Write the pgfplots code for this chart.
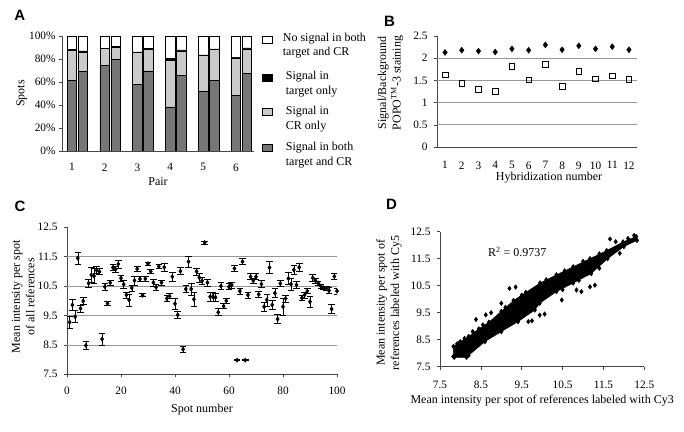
\documentclass[border=0pt]{standalone}
\usepackage{pgfplots}
\pgfplotsset{compat=1.18}
\usepackage{pgfplotstable}
\usepackage{fontspec}
\setmainfont{Liberation Serif}
\newfontfamily\panelfont{Liberation Sans}
\definecolor{darkbar}{RGB}{118,118,118}
\definecolor{lightbar}{RGB}{202,202,202}
\definecolor{gridc}{RGB}{150,150,150}
\definecolor{axc}{RGB}{70,70,70}
\newcommand\tk{\fontsize{11.3}{13}\selectfont}
\newcommand\lb{\fontsize{12}{14.5}\selectfont}
\newcommand\pl{\panelfont\bfseries\fontsize{15}{15}\selectfont}

\pgfplotsset{
  panel/.style={
    scale only axis, anchor=south west,
    axis x line*=bottom, axis y line*=left,
    axis line style={axc, line width=0.6pt},
    tick align=outside, major tick length=3pt,
    tick style={axc, line width=0.5pt},
    tick label style={font=\tk},
    label style={font=\lb},
    grid style={gridc, line width=0.6pt},
    /pgf/number format/assume math mode=true,
  },
}

% panel C: spot, mean, error
\pgfplotstableread{
s v e
1 9.27 0.2
2 9.86 0.18
3 9.46 0.2
4 11.45 0.2
5 9.74 0.12
6 9.99 0.12
7 8.48 0.13
8 10.6 0.13
9 10.88 0.25
10 10.84 0.25
11 11.04 0.12
12 10.99 0.1
13 8.7 0.2
14 10.48 0.12
15 9.91 0.06
16 10.62 0.08
17 11.13 0.1
18 11.07 0.1
19 11.25 0.13
20 10.77 0.1
21 10.56 0.15
22 10.2 0.1
23 10.03 0.2
24 10.44 0.1
25 10.69 0.15
26 11.09 0.1
27 10.74 0.08
28 10.19 0.05
29 10.75 0.08
30 11.26 0.06
31 11.0 0.08
32 10.62 0.12
33 10.46 0.1
34 11.17 0.08
35 10.62 0.08
36 11.14 0.12
37 10.08 0.1
38 10.16 0.08
39 10.82 0.15
40 9.9 0.18
41 9.52 0.12
42 11.01 0.12
43 8.35 0.1
44 10.4 0.12
45 11.33 0.2
46 10.4 0.2
47 10.05 0.25
48 11.0 0.12
49 10.79 0.15
50 10.68 0.12
51 11.98 0.05
52 10.62 0.12
53 10.14 0.15
54 10.14 0.15
55 10.12 0.12
56 9.61 0.12
57 10.5 0.12
58 9.82 0.08
59 10.0 0.1
60 10.48 0.1
61 10.54 0.1
62 11.1 0.1
63 7.98 0.02
64 10.33 0.1
65 11.33 0.1
66 7.98 0.02
67 10.2 0.1
68 10.82 0.1
69 10.68 0.1
70 10.82 0.1
71 10.22 0.1
72 10.57 0.12
73 9.8 0.15
74 10.03 0.2
75 11.13 0.2
76 9.86 0.15
77 10.26 0.15
78 9.38 0.15
79 10.59 0.1
80 9.8 0.3
81 10.08 0.12
82 10.76 0.2
83 10.57 0.2
84 11.05 0.15
85 10.54 0.12
86 11.14 0.12
87 10.1 0.08
88 10.2 0.1
89 10.33 0.08
90 9.97 0.2
91 10.78 0.12
92 10.69 0.08
93 10.6 0.08
94 10.5 0.06
95 10.44 0.06
96 10.42 0.06
97 10.35 0.1
98 9.72 0.15
99 10.83 0.1
100 10.33 0.1
}\Cdata

\begin{document}
\begin{tikzpicture}
\path[use as bounding box, fill=white] (0pt,0pt) rectangle (684pt,431pt);

% ---------------- A ----------------
\node[font=\pl] at (19.7pt,416pt) {A};
\begin{axis}[panel, at={(62pt,280pt)}, width=192pt, height=115pt,
  xmin=0.70, xmax=6.55, ymin=0, ymax=100,
  ytick={0,20,...,100}, yticklabel={\pgfmathprintnumber{\tick}\%},
  xtick={1,...,6}, x tick style={draw=none}, xticklabel shift=6pt,
  ybar stacked, bar width=0.29,
  xlabel={Pair}, ylabel={Spots},
  xlabel style={at={(axis description cs:0.5,-0.267)}, anchor=center},
  ylabel style={at={(axis description cs:-0.21,0.5)}, anchor=center},
]
\addplot[fill=darkbar, draw=black, line width=0.5pt] coordinates {
 (1,61.4) (1.335,69.3) (2,74.2) (2.335,79.7) (3,58) (3.335,69.6)
 (4,38.3) (4.335,65.8) (5,51.9) (5.335,61.2) (6,48.1) (6.335,67.5)};
\addplot[fill=lightbar, draw=black, line width=0.5pt] coordinates {
 (1,26.1) (1.335,16.5) (2,14.8) (2.335,10.2) (3,27.5) (3.335,18.8)
 (4,40.8) (4.335,21.2) (5,31.3) (5.335,27.2) (6,32.8) (6.335,21.2)};
\addplot[fill=black, draw=black, line width=0.5pt] coordinates {
 (1,0.8) (1.335,1.2) (2,0.5) (2.335,1.0) (3,0.8) (3.335,0.6)
 (4,1.2) (4.335,0.9) (5,0.3) (5.335,0.4) (6,0.7) (6.335,0.9)};
\addplot[fill=white, draw=black, line width=0.5pt] coordinates {
 (1,11.7) (1.335,13.0) (2,10.5) (2.335,9.1) (3,13.7) (3.335,11.0)
 (4,19.7) (4.335,12.1) (5,16.5) (5.335,11.2) (6,18.4) (6.335,10.4)};
\end{axis}
% legend of A
\draw[black, line width=0.5pt, fill=white] (262.7pt,388.2pt) rectangle (272.7pt,395.2pt);
\draw[black, line width=0.5pt, fill=black] (262.7pt,349.5pt) rectangle (272.7pt,356.5pt);
\draw[black, line width=0.5pt, fill=lightbar] (262.7pt,315.8pt) rectangle (272.7pt,322.8pt);
\draw[black, line width=0.5pt, fill=darkbar] (262.7pt,280.2pt) rectangle (272.7pt,287.2pt);
\begin{scope}[every node/.style={anchor=west, font=\lb, inner sep=0pt}]
\node at (282.7pt,392pt) {No signal in both};
\node at (282.7pt,378pt) {target and CR};
\node at (285.7pt,354pt) {Signal in};
\node at (285.7pt,339pt) {target only};
\node at (285.7pt,319pt) {Signal in};
\node at (285.7pt,304pt) {CR only};
\node at (285.7pt,283pt) {Signal in both};
\node at (285.7pt,268.5pt) {target and CR};
\end{scope}

% ---------------- B ----------------
\node[font=\pl] at (389.5pt,410pt) {B};
\begin{axis}[panel, at={(437pt,284pt)}, width=200pt, height=111pt,
  xmin=0.52, xmax=12.48, ymin=0, ymax=2.5,
  xtick={1,...,12}, x tick style={draw=none}, xticklabel shift=8pt,
  ytick={0,0.5,1,1.5,2,2.5}, yticklabel shift=3pt,
  extra y ticks={0.5,1,1.5,2}, extra y tick labels={},
  extra y tick style={grid=major, major tick length=0pt},
  xlabel={Hybridization number},
  ylabel={Signal/Background\\POPO\textsuperscript{TM}-3 staining},
  xlabel style={at={(axis description cs:0.56,-0.277)}, anchor=center},
  ylabel style={at={(axis description cs:-0.232,0.577)}, anchor=center, align=center},
]
\addplot[only marks, mark=diamond*, mark size=3pt, black] coordinates {
 (1,2.13) (2,2.18) (3,2.16) (4,2.14) (5,2.21) (6,2.18)
 (7,2.30) (8,2.19) (9,2.28) (10,2.21) (11,2.26) (12,2.19)};
\addplot[only marks, mark=square, mark size=2.8pt, black, mark options={line width=0.6pt}] coordinates {
 (1,1.63) (2,1.43) (3,1.30) (4,1.25) (5,1.82) (6,1.51)
 (7,1.86) (8,1.37) (9,1.70) (10,1.54) (11,1.60) (12,1.52)};
\end{axis}

% ---------------- C ----------------
\node[font=\pl] at (20pt,225pt) {C};
\begin{axis}[panel, at={(67pt,56.7pt)}, width=270pt, height=147pt,
  xmin=0, xmax=100, ymin=7.5, ymax=12.5,
  xtick={0,20,...,100}, xticklabel shift=6pt,
  ytick={7.5,8.5,9.5,10.5,11.5,12.5}, yticklabel shift=3pt,
  extra y ticks={8.5,9.5,10.5,11.5}, extra y tick labels={},
  extra y tick style={grid=major, major tick length=0pt},
  xlabel={Spot number},
  ylabel={Mean intensity per spot\\of all references},
  xlabel style={at={(axis description cs:0.5,-0.243)}, anchor=center},
  ylabel style={at={(axis description cs:-0.162,0.528)}, anchor=center, align=center},
]
\addplot[only marks, mark=diamond*, mark size=2.2pt, black,
  error bars/.cd, y dir=both, y explicit,
  error bar style={black, line width=0.6pt},
  error mark options={rotate=90, mark size=3.3pt, line width=0.6pt, black}]
  table[x=s, y=v, y error=e] {\Cdata};
\end{axis}

% ---------------- D ----------------
\node[font=\pl] at (391.5pt,227pt) {D};
\begin{axis}[panel, at={(440pt,64.3pt)}, width=204.3pt, height=135pt,
  xmin=7.5, xmax=12.5, ymin=7.5, ymax=12.5,
  xtick={7.5,8.5,9.5,10.5,11.5,12.5}, xticklabel shift=8pt,
  ytick={7.5,8.5,9.5,10.5,11.5,12.5}, yticklabel shift=3pt,
  xlabel={Mean intensity per spot of references labeled with Cy3},
  ylabel={Mean intensity per spot of\\references labeled with Cy5},
  xlabel style={at={(axis description cs:0.5,-0.248)}, anchor=center},
  ylabel style={at={(axis description cs:-0.25,0.472)}, anchor=center, align=center},
  clip=false,
]
\addplot[fill=black, draw=black, line width=0.5pt, mark=diamond*, mark size=2.3pt] coordinates {
 (7.83,7.88) (7.83,8.25) (8.0,8.42) (8.2,8.62) (8.45,8.9) (8.7,9.15)
 (9.0,9.55) (9.3,9.95) (9.6,10.25) (9.95,10.6) (10.35,10.9) (10.76,11.2)
 (11.17,11.5) (11.58,11.8) (11.98,12.12) (12.3,12.32)
 (12.32,12.18) (12.0,11.95) (11.6,11.5) (11.2,10.95) (10.76,10.6) (10.35,10.28)
 (9.94,9.85) (9.82,9.6) (9.41,9.17) (9.0,8.8) (8.6,8.43) (8.2,7.92)
 (8.15,7.85) (7.85,7.85) (7.83,7.88)};
\addplot[only marks, mark=diamond*, mark size=2.3pt, black] coordinates {
 (8.38,9.25) (8.62,9.42) (8.75,9.5) (9.0,9.85) (9.2,10.4) (9.35,10.45)
 (9.66,9.17) (9.75,9.2) (9.94,9.41) (10.06,9.45) (10.48,9.97) (10.84,10.34)
 (10.96,10.28) (11.17,10.46) (11.29,10.52) (11.66,12.23) (11.8,12.13)
 (12.1,12.25) (12.25,12.36) (7.92,8.35) (7.98,8.4) (8.1,8.55) (8.3,8.8)
 (8.55,9.05) (9.1,9.7) (9.5,10.15) (10.1,10.72) (10.55,11.05) (11.0,11.4)
 (11.4,11.68) (11.9,11.7) (11.4,11.15) (10.9,10.7) (10.5,10.35)};
\node[anchor=west, font=\lb, inner sep=0pt] at (axis cs:8.67,11.76) {R\textsuperscript{2} = 0.9737};
\end{axis}
\end{tikzpicture}
\end{document}
